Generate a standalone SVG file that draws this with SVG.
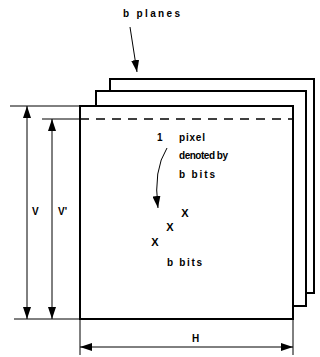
<svg xmlns="http://www.w3.org/2000/svg" width="320" height="357" viewBox="0 0 320 357">
<defs>
<style>
.plane{fill:#fff;stroke:#000;stroke-width:2}
.dim{stroke:#000;stroke-width:1;fill:none}
.t{font-family:"Liberation Sans",Arial,sans-serif;font-size:10px;fill:#000;font-weight:bold}
.x{font-size:11px;text-anchor:middle}
</style>
<marker id="ah" viewBox="0 0 12 8" refX="12" refY="4" markerWidth="12" markerHeight="8" orient="auto-start-reverse" markerUnits="userSpaceOnUse">
<path d="M0,0 L12,4 L0,8 z" fill="#000"/>
</marker>
</defs>
<rect width="320" height="357" fill="#fff"/>
<g id="plane3"><path class="plane" d="M110,93 V79 H314 V293 H306"/></g>
<g id="plane2"><path class="plane" d="M96,106 V91 H306 V306 H293"/></g>
<g id="plane1"><rect class="plane" x="80" y="106" width="213" height="213"/>
<line x1="80" y1="119" x2="293" y2="119" stroke="#000" stroke-width="1.5" stroke-dasharray="9,7"/></g>
<g id="label-planes"><text class="t" x="123" y="17" font-size="11.5" textLength="57">b planes</text></g>
<g id="label-pixel">
<text class="t" x="157" y="141">1</text>
<text class="t" x="179" y="141" textLength="26">pixel</text>
<text class="t" x="179" y="159" font-size="9.5" textLength="49">denoted by</text>
<text class="t" x="179" y="178" textLength="36">b bits</text>
</g>
<g id="bits">
<text class="t x" x="185" y="217">X</text>
<text class="t x" x="170" y="231">X</text>
<text class="t x" x="155" y="246">X</text>
<text class="t" x="167" y="266" textLength="35">b bits</text>
</g>
<g id="label-V"><text class="t" x="32" y="215">V</text></g>
<g id="label-Vp"><text class="t" x="58" y="215">V'</text></g>
<g id="label-H"><text class="t" x="192" y="342">H</text></g>
<g id="connectors">
<line class="dim" x1="130" y1="27" x2="137" y2="72" marker-end="url(#ah)"/>
<path class="dim" d="M167,148 Q153,170 158,208" marker-end="url(#ah)"/>
<line class="dim" x1="10" y1="106" x2="80" y2="106"/>
<line class="dim" x1="42" y1="119" x2="80" y2="119"/>
<line class="dim" x1="14" y1="319" x2="80" y2="319"/>
<line class="dim" x1="27" y1="106" x2="27" y2="319" marker-start="url(#ah)" marker-end="url(#ah)"/>
<line class="dim" x1="52" y1="119" x2="52" y2="319" marker-start="url(#ah)" marker-end="url(#ah)"/>
<line class="dim" x1="80" y1="319" x2="80" y2="355"/>
<line class="dim" x1="293" y1="319" x2="293" y2="355"/>
<line class="dim" x1="80" y1="347" x2="293" y2="347" marker-start="url(#ah)" marker-end="url(#ah)"/>
</g>
</svg>
